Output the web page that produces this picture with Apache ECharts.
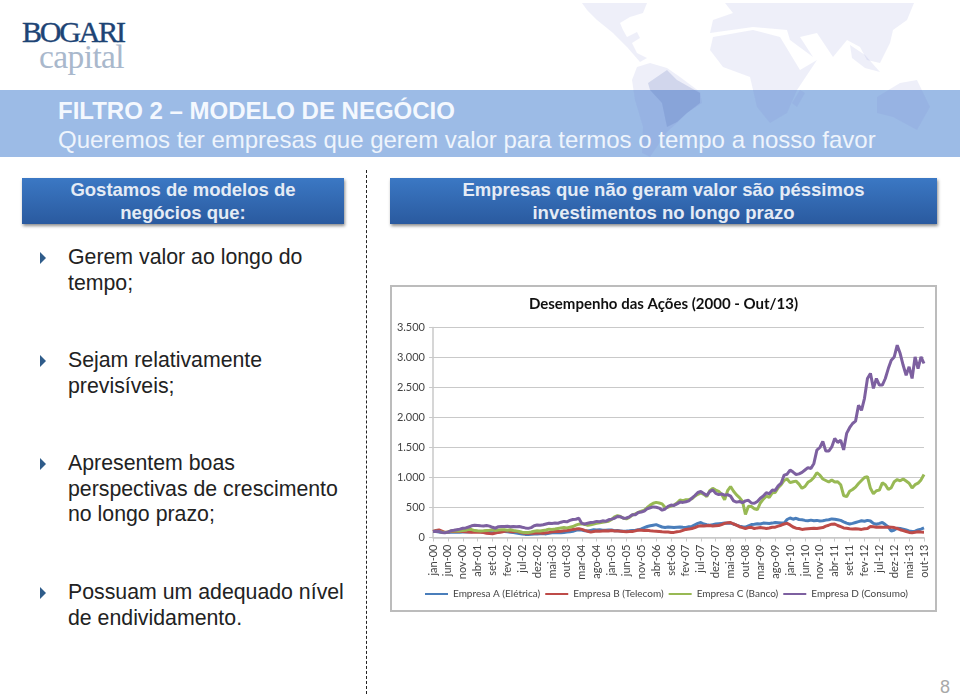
<!DOCTYPE html>
<html lang="pt-BR">
<head>
<meta charset="utf-8">
<title>Filtro 2 - Modelo de Negócio</title>
<script src="https://cdn.jsdelivr.net/npm/echarts@6/dist/echarts.min.js"></script>
<style>
  html, body { margin: 0; padding: 0; background: #fff; }
  #slide { position: relative; width: 960px; height: 694px; overflow: hidden; font-family: "Liberation Sans", Arial, sans-serif; }
  #slide > * { position: absolute; }
  .logo1 { left: 22px; top: 16px; font: 30px/32px "Liberation Serif", serif; color: #1d4475; letter-spacing: -2.2px; -webkit-text-stroke: 0.4px #1d4475; }
  .logo2 { left: 39px; top: 41px; font: 33.5px/32px "Liberation Serif", serif; color: #a9b8cc; letter-spacing: -0.6px; }
  .banner { left: 0; top: 90px; width: 960px; height: 67px; background: #9cbbe6; }
  .map { left: 0; top: 0; }
  .h1 { left: 58px; top: 97px; font-size: 24px; line-height: 27px; font-weight: bold; color: #f4f8fe; white-space: nowrap; }
  .h2 { left: 58px; top: 126px; font-size: 24px; line-height: 27px; color: #eef4fc; white-space: nowrap; }
  .head { top: 178px; height: 46px; background: linear-gradient(#3b78c4, #2a5a9f); box-shadow: 1px 2px 3px rgba(0,0,0,.45);
          color: #e4ebf5; font-size: 18.5px; line-height: 23px; font-weight: bold; text-align: center; }
  .divider { left: 366px; top: 170px; height: 524px; border-left: 1px dashed #222; }
  .tri { left: 40px; width: 0; height: 0; border-left: 6px solid #2f5c8a; border-top: 6px solid transparent; border-bottom: 6px solid transparent; }
  .item { left: 68px; width: 296px; font-size: 21.3px; line-height: 25.6px; color: #222; }
  .page { left: 940px; top: 677px; font-size: 18px; line-height: 20px; color: #a8a8a8; }
  #chart { left: 390px; top: 285px; width: 547px; height: 327px; box-sizing: border-box; border: 2px solid #bcbcbc; background: #fff; }
</style>
</head>
<body>
<div id="slide">
  <div class="logo1">BOGARI</div>
  <div class="logo2">capital</div>
  <div class="banner"></div>
  <svg class="map" width="960" height="157" viewBox="0 0 960 157">
    <g fill="rgba(120,130,210,0.13)">
      <polygon points="582,3 647,3 643,13 630,17 620,23 623,30 627,37 637,32 640,38 632,43 637,53 647,58 640,62 627,47 613,33 597,20 587,10"/>
      <polygon points="637,67 650,63 667,68 680,77 700,92 702,103 687,113 677,123 667,132 650,157 642,153 643,127 635,100 632,80"/>
      <polygon points="725,3 914,3 907,20 893,30 890,43 880,63 867,60 860,47 847,40 833,57 817,33 800,37 813,57 790,40 787,30 753,27 710,33 713,20 733,13"/>
      <polygon points="713,37 753,30 780,37 800,70 817,60 797,90 787,113 770,123 757,107 750,77 723,67 710,50"/>
      <polygon points="800,90 805,93 797,107 792,103"/>
      <polygon points="877,97 900,83 917,80 930,107 917,130 893,117 877,113"/>
      <polygon points="850,45 865,55 880,72 865,68 852,58"/>
    </g>
    <polygon fill="rgba(60,90,170,0.16)" points="648,83 667,70 677,80 700,93 700,103 687,113 677,122 667,127 662,103 650,90"/>
  </svg>
  <div class="h1">FILTRO 2 – MODELO DE NEGÓCIO</div>
  <div class="h2">Queremos ter empresas que gerem valor para termos o tempo a nosso favor</div>

  <div class="head" style="left:22px;width:322px">Gostamos de modelos de<br>negócios que:</div>
  <div class="head" style="left:390px;width:547px">Empresas que não geram valor são péssimos<br>investimentos no longo prazo</div>
  <div class="divider"></div>

  <div class="tri" style="top:252px"></div>
  <div class="item" style="top:245px">Gerem valor ao longo do<br>tempo;</div>
  <div class="tri" style="top:355px"></div>
  <div class="item" style="top:348px">Sejam relativamente<br>previsíveis;</div>
  <div class="tri" style="top:458px"></div>
  <div class="item" style="top:451px">Apresentem boas<br>perspectivas de crescimento<br>no longo prazo;</div>
  <div class="tri" style="top:587px"></div>
  <div class="item" style="top:580px">Possuam um adequado nível<br>de endividamento.</div>

  <div id="chart"></div>
  <div class="page">8</div>
</div>

<script>
const chartTitle = 'Desempenho das Ações (2000 - Out/13)';
const monthNames = ['jan', 'fev', 'mar', 'abr', 'mai', 'jun', 'jul', 'ago', 'set', 'out', 'nov', 'dez'];
const years = ['00', '01', '02', '03', '04', '05', '06', '07', '08', '09', '10', '11', '12', '13'];
const seriesNames = ['Empresa A (Elétrica)', 'Empresa B (Telecom)', 'Empresa C (Banco)', 'Empresa D (Consumo)'];
const seriesColors = ['#4a7ebb', '#be4b48', '#98b954', '#7d60a0'];

// meses jan-00 a out-13, uma linha por ano
const categories = [];
years.forEach((y) => monthNames.forEach((m) => categories.push(`${m}-${y}`)));
categories.length = 166;

const empresaA = [
  100, 98, 92, 85, 82, 85, 88, 86, 90, 88, 90, 95,
  90, 95, 102, 98, 95, 92, 88, 84, 80, 85, 90, 98,
  100, 95, 88, 82, 75, 68, 58, 52, 50, 55, 60, 58,
  62, 68, 60, 72, 78, 80, 85, 80, 83, 90, 95, 105,
  120, 128, 125, 112, 108, 118, 128, 125, 130, 122, 120, 125,
  125, 112, 115, 110, 105, 108, 112, 118, 122, 128, 145, 165,
  183, 195, 205, 215, 195, 175, 168, 175, 170, 165, 172, 175,
  170, 168, 178, 185, 210, 235, 250, 225, 212, 205, 215, 225,
  230, 235, 240, 238, 240, 225, 205, 190, 180, 172, 195, 215,
  222, 230, 225, 240, 238, 232, 240, 250, 245, 240, 240, 300,
  325, 305, 320, 300, 295, 285, 280, 290, 278, 285, 275, 280,
  290, 295, 310, 305, 295, 285, 262, 240, 225, 235, 250, 265,
  280, 270, 285, 275, 235, 222, 235, 250, 215, 175, 105, 125,
  155, 150, 140, 125, 110, 100, 105, 125, 140, 160
];
const empresaB = [
  100, 118, 125, 105, 85, 92, 100, 105, 102, 98, 100, 95,
  92, 88, 86, 90, 88, 84, 72, 65, 62, 75, 85, 90,
  105, 110, 100, 95, 102, 90, 80, 72, 75, 70, 72, 78,
  75, 72, 80, 85, 95, 98, 100, 105, 112, 118, 125, 135,
  140, 148, 135, 118, 105, 90, 100, 108, 105, 110, 112, 108,
  115, 110, 108, 105, 100, 95, 98, 100, 110, 125, 122, 118,
  120, 112, 108, 105, 100, 95, 92, 90, 84, 85, 95, 102,
  120, 135, 140, 150, 165, 185, 195, 190, 195, 200, 190, 195,
  200, 215, 235, 245, 250, 225, 205, 180, 165, 150, 165, 170,
  150, 160, 165, 160, 150, 158, 170, 172, 190, 205, 225, 235,
  210, 175, 155, 150, 135, 140, 145, 150, 155, 150, 158, 165,
  190, 205, 222, 225, 200, 180, 160, 155, 145, 140, 145, 140,
  135, 145, 150, 185, 180, 170, 175, 172, 170, 175, 172, 165,
  150, 130, 115, 100, 85, 80, 88, 95, 90, 88
];
const empresaC = [
  100, 103, 98, 90, 85, 92, 108, 112, 108, 110, 115, 120,
  139, 132, 115, 111, 108, 112, 118, 122, 128, 118, 125, 130,
  128, 122, 130, 118, 110, 100, 88, 83, 85, 92, 105, 111,
  108, 118, 125, 139, 135, 142, 150, 158, 165, 160, 172, 183,
  205, 222, 228, 218, 205, 212, 225, 235, 245, 255, 262, 270,
  300, 345, 365, 350, 320, 312, 335, 375, 395, 420, 440, 455,
  500, 540, 570, 585, 575, 560, 500, 505, 525, 540, 575, 625,
  615, 630, 635, 645, 690, 720, 745, 720, 680, 780, 820, 790,
  770, 720, 630, 780, 850, 770, 710, 665, 600, 385, 520, 515,
  480, 465, 575, 640, 690, 670, 745, 750, 830, 880, 950, 975,
  915, 930, 940, 890, 820, 850, 920, 950, 1000, 1080, 1040, 975,
  950, 925, 960, 925, 930, 880, 700, 680, 770, 800, 840, 900,
  950, 1000, 1015, 820, 730, 780, 790, 910, 880, 800, 830, 930,
  965, 945, 975, 940, 905, 825, 880, 905, 960, 1050
];
const empresaD = [
  100, 105, 100, 85, 78, 90, 112, 120, 130, 140, 155, 160,
  175, 195, 205, 200, 195, 192, 200, 190, 170, 155, 180, 185,
  185, 188, 180, 185, 178, 183, 170, 160, 152, 165, 195, 208,
  205, 212, 225, 238, 235, 240, 238, 255, 268, 262, 285, 300,
  305, 320, 235, 225, 238, 250, 255, 268, 262, 278, 270, 295,
  306, 320, 350, 345, 322, 325, 345, 378, 380, 417, 425, 440,
  480, 495, 510, 505, 490, 455, 475, 520, 540, 535, 560, 590,
  585, 595, 610, 655, 700, 750, 766, 735, 700, 765, 794, 735,
  715, 725, 705, 715, 690, 610, 590, 600, 580, 610, 620, 575,
  570, 600, 655, 690, 745, 730, 790, 785, 860, 905, 1040, 1055,
  1125, 1090, 1050, 1060, 1085, 1125, 1165, 1150, 1235, 1455, 1500, 1600,
  1440, 1440, 1510, 1650, 1585, 1620, 1460, 1735, 1830, 1900, 1940, 2205,
  2120, 2320, 2650, 2735, 2485, 2650, 2540, 2540, 2650, 2815, 2955, 3010,
  3205, 3065, 2870, 2705, 2845, 2650, 3010, 2815, 3010, 2900
];
const seriesValues = [empresaA, empresaB, empresaC, empresaD];

const axisColor = '#c9c9c9';
const labelColor = '#444';
const font = 'Lato, "Open Sans", sans-serif';

const chart = echarts.init(document.getElementById('chart'), null, { renderer: 'canvas' });
chart.setOption({
  animation: false,
  title: {
    text: chartTitle,
    left: 'center',
    top: 5,
    textStyle: { fontFamily: font, fontSize: 15, fontWeight: 'bold', color: '#111' },
  },
  legend: {
    top: 302,
    left: 32,
    width: 510,
    padding: 0,
    itemWidth: 23,
    itemHeight: 2,
    itemGap: 4,
    data: seriesNames,
    textStyle: { fontFamily: font, fontSize: 10, color: labelColor },
  },
  grid: { left: 41, top: 40.5, width: 491, height: 210 },
  xAxis: {
    type: 'category',
    boundaryGap: false,
    data: categories,
    axisLine: { lineStyle: { color: axisColor, width: 1.5 } },
    axisTick: { interval: 4, length: 4, lineStyle: { color: axisColor } },
    axisLabel: { interval: 4, rotate: 90, fontFamily: font, fontSize: 11, color: labelColor, margin: 7 },
    splitLine: { show: false },
  },
  yAxis: {
    type: 'value',
    min: 0,
    max: 3500,
    interval: 500,
    axisLine: { show: true, lineStyle: { color: axisColor, width: 1.5 } },
    axisTick: { show: true, length: 4, lineStyle: { color: axisColor } },
    axisLabel: {
      fontFamily: font,
      fontSize: 11,
      color: labelColor,
      margin: 8,
      formatter: (val) => val.toLocaleString('pt-BR'),
    },
    splitLine: { lineStyle: { color: axisColor, width: 1 } },
  },
  series: seriesNames.map((name, i) => ({
    name,
    type: 'line',
    data: seriesValues[i],
    showSymbol: false,
    symbol: 'none',
    lineStyle: { color: seriesColors[i], width: 3 },
    itemStyle: { color: seriesColors[i] },
  })),
});
</script>
</body>
</html>
